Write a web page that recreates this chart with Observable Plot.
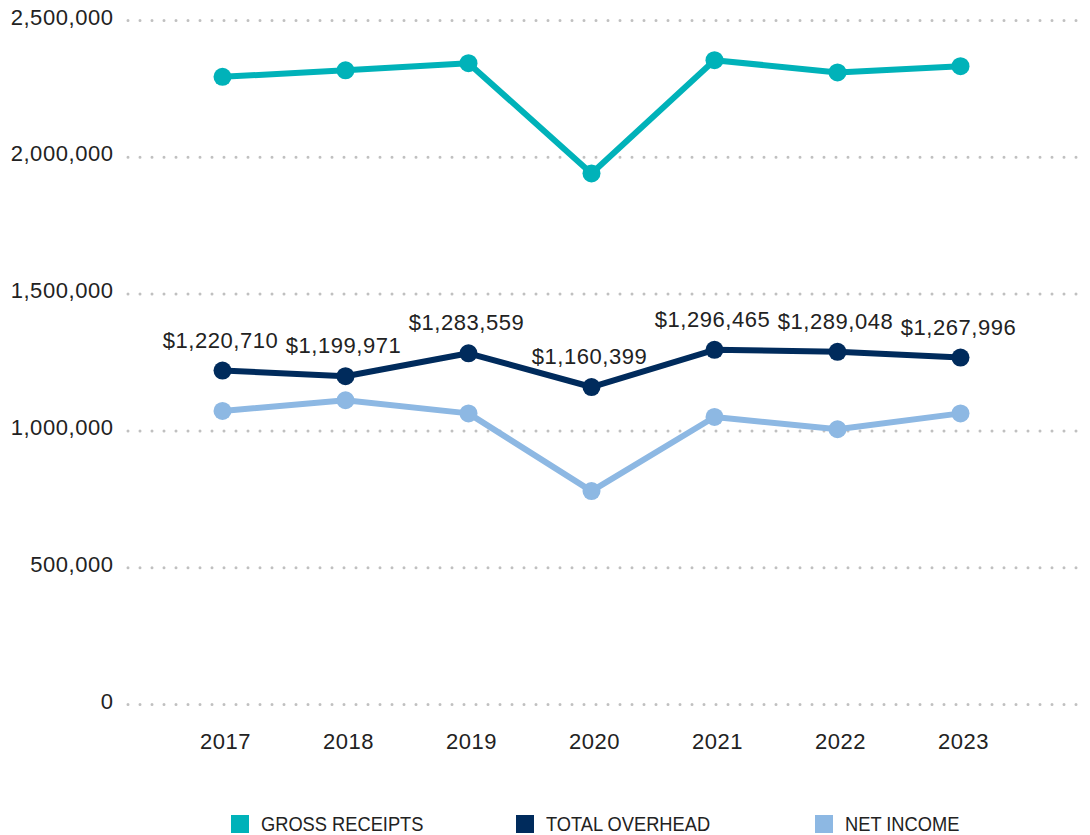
<!DOCTYPE html>
<html>
<head>
<meta charset="utf-8">
<script src="https://cdn.jsdelivr.net/npm/d3@7"></script>
<script src="https://cdn.jsdelivr.net/npm/@observablehq/plot@0.6"></script>
<style>
  body { margin: 0; background: #fff; }
  #chart { width: 1090px; }
  #chart svg text { letter-spacing: 0.55px; }
  #legend { position: relative; width: 1090px; height: 65px; font-family: "Liberation Sans", Arial, sans-serif; font-size: 21px; color: #222; }
  .item { position: absolute; top: 45px; display: flex; align-items: center; height: 18px; }
  .sw { width: 18px; height: 18px; margin-right: 12px; flex: none; }
  .lt { display: inline-block; transform: scaleX(0.87); transform-origin: left center; white-space: nowrap; }
</style>
</head>
<body>
<div id="chart"></div>
<div id="legend"></div>
<script>
const years = [2017, 2018, 2019, 2020, 2021, 2022, 2023];
const grossReceipts = [2294000, 2318000, 2344000, 1941000, 2355000, 2310000, 2333000];
const totalOverhead = [1220710, 1199971, 1283559, 1160399, 1296465, 1289048, 1267996];
const netIncome = [1073000, 1112000, 1064000, 780000, 1051000, 1006000, 1064000];
const yTicks = [0, 500000, 1000000, 1500000, 2000000, 2500000];
const seriesNames = ["GROSS RECEIPTS", "TOTAL OVERHEAD", "NET INCOME"];
const seriesColors = ["#00B2B9", "#002B5C", "#8DB8E3"];

const seriesValues = [grossReceipts, totalOverhead, netIncome];
const rows = seriesNames.flatMap((s, k) => years.map((y, i) => ({year: y, series: s, value: seriesValues[k][i]})));
const overheadRows = rows.filter(d => d.series === "TOTAL OVERHEAD");
const fmt = d3.format(",");

const chart = Plot.plot({
  width: 1090,
  height: 770,
  marginLeft: 128,
  marginRight: 5,
  marginTop: 20,
  marginBottom: 66,
  style: {fontFamily: "'Liberation Sans', Arial, sans-serif", fontSize: "22px", color: "#222", background: "white"},
  x: {type: "point", domain: years, range: [219, 962], padding: 0, label: null},
  y: {domain: [0, 2500000], label: null},
  color: {domain: seriesNames, range: seriesColors},
  marks: [
    Plot.ruleY(yTicks, {stroke: "#c0c0c0", strokeWidth: 3, strokeDasharray: "0 12", strokeLinecap: "round"}),
    Plot.axisY({ticks: yTicks, tickSize: 0, tickPadding: 15, tickFormat: fmt, dy: -3, fontSize: 22, label: null}),
    Plot.axisX({tickSize: 0, tickPadding: 29, tickFormat: d => String(d), dx: 3, fontSize: 22, label: null}),
    Plot.line(rows, {x: "year", y: "value", z: "series", stroke: "series", strokeWidth: 6, strokeLinejoin: "round"}),
    Plot.dot(rows, {x: "year", y: "value", fill: "series", r: 9}),
    Plot.text(overheadRows, {x: "year", y: "value", text: d => "$" + fmt(d.value), lineAnchor: "bottom", dy: -23, dx: -2, fontSize: 22, fill: "#222"})
  ]
});
document.getElementById("chart").appendChild(chart);

const legend = document.getElementById("legend");
const lefts = [231, 516, 815];
seriesNames.forEach((s, i) => {
  const item = document.createElement("div");
  item.className = "item";
  item.style.left = lefts[i] + "px";
  const sw = document.createElement("span");
  sw.className = "sw";
  sw.style.background = seriesColors[i];
  const t = document.createElement("span");
  t.className = "lt";
  t.textContent = s;
  item.appendChild(sw);
  item.appendChild(t);
  legend.appendChild(item);
});
</script>
</body>
</html>
